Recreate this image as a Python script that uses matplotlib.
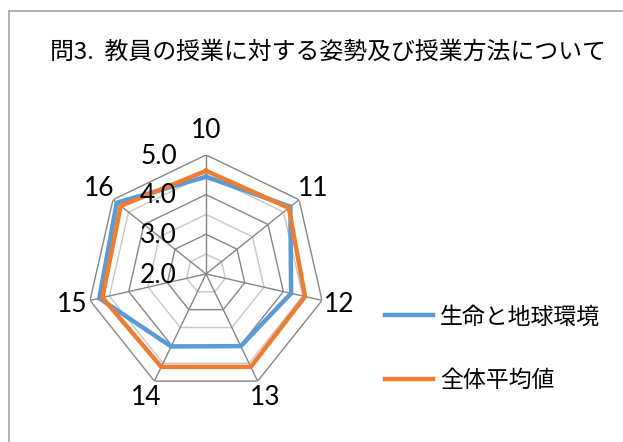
import numpy as np
import matplotlib
matplotlib.use("Agg")
import matplotlib.pyplot as plt
from matplotlib.lines import Line2D

plt.rcParams['font.family'] = ['Noto Sans CJK JP', 'DejaVu Sans']

# data
categories = ["10", "11", "12", "13", "14", "15", "16"]
series_names = ["生命と地球環境", "全体平均値"]
life_env = [4.45, 4.72, 4.20, 4.02, 4.03, 4.76, 4.88]
overall = [4.60, 4.67, 4.56, 4.60, 4.60, 4.68, 4.75]
major_ticks = [2.0, 3.0, 4.0, 5.0]
minor_ticks = [2.5, 3.5, 4.5]
title = "問3.  教員の授業に対する姿勢及び授業方法について"

blue = "#5B9BD5"
orange = "#ED7D31"

n = len(categories)
angles = np.linspace(0, 2 * np.pi, n, endpoint=False)
closed = np.append(angles, angles[0])

fig = plt.figure(figsize=(6.23, 4.42), dpi=100)

# chart border
fig.add_artist(Line2D([9 / 623, 1.0], [1 - 11 / 442, 1 - 11 / 442],
                      color="#A6A6A6", lw=1.2, transform=fig.transFigure))
fig.add_artist(Line2D([9 / 623, 9 / 623], [0, 1 - 11 / 442],
                      color="#A6A6A6", lw=1.2, transform=fig.transFigure))

fig.text(0.527, 1 - 52 / 442, title, ha="center", va="center", fontsize=17.2)

ax = fig.add_axes([0.1397, 0.111, 0.382, 0.5385], projection="polar")
ax.set_theta_zero_location("N")
ax.set_theta_direction(-1)
ax.set_ylim(2, 5)
ax.grid(False)
ax.spines["polar"].set_visible(False)
ax.set_xticks([])
ax.set_yticks([])
ax.patch.set_alpha(0)

# heptagon grid
for r in minor_ticks:
    ax.plot(closed, [r] * (n + 1), color="#C8C8C8", lw=1, zorder=1)
for r in major_ticks[1:]:
    ax.plot(closed, [r] * (n + 1), color="#868686", lw=1, zorder=1)
for a in angles:
    ax.plot([a, a], [2, 5], color="#868686", lw=1, zorder=1)

ax.plot(closed, np.append(life_env, life_env[0]), color=blue, lw=3.2,
        label=series_names[0], zorder=3, solid_joinstyle="miter")
ax.plot(closed, np.append(overall, overall[0]), color=orange, lw=3.2,
        label=series_names[1], zorder=3, solid_joinstyle="miter")

# category labels
for a, c in zip(angles, categories):
    r = 5.62 if c == "10" else 5.45
    ax.text(a, r, c, ha="center", va="center", fontsize=19,
            family=["Lato", "DejaVu Sans"])

# radial labels
for v in major_ticks:
    ax.annotate(f"{v:.1f}", xy=(0, v), xytext=(-21, -1), textcoords="offset points",
                ha="right", va="center", fontsize=19,
                family=["Lato", "DejaVu Sans"])

handles, labels = ax.get_legend_handles_labels()
fig.legend(handles, labels, loc="center left", bbox_to_anchor=(385 / 623, 1 - 348.5 / 442),
           frameon=False, fontsize=16.5, handlelength=2.1, handletextpad=0.3,
           labelspacing=1.75, borderpad=0, borderaxespad=0)

fig.savefig("out.png", dpi=100)
